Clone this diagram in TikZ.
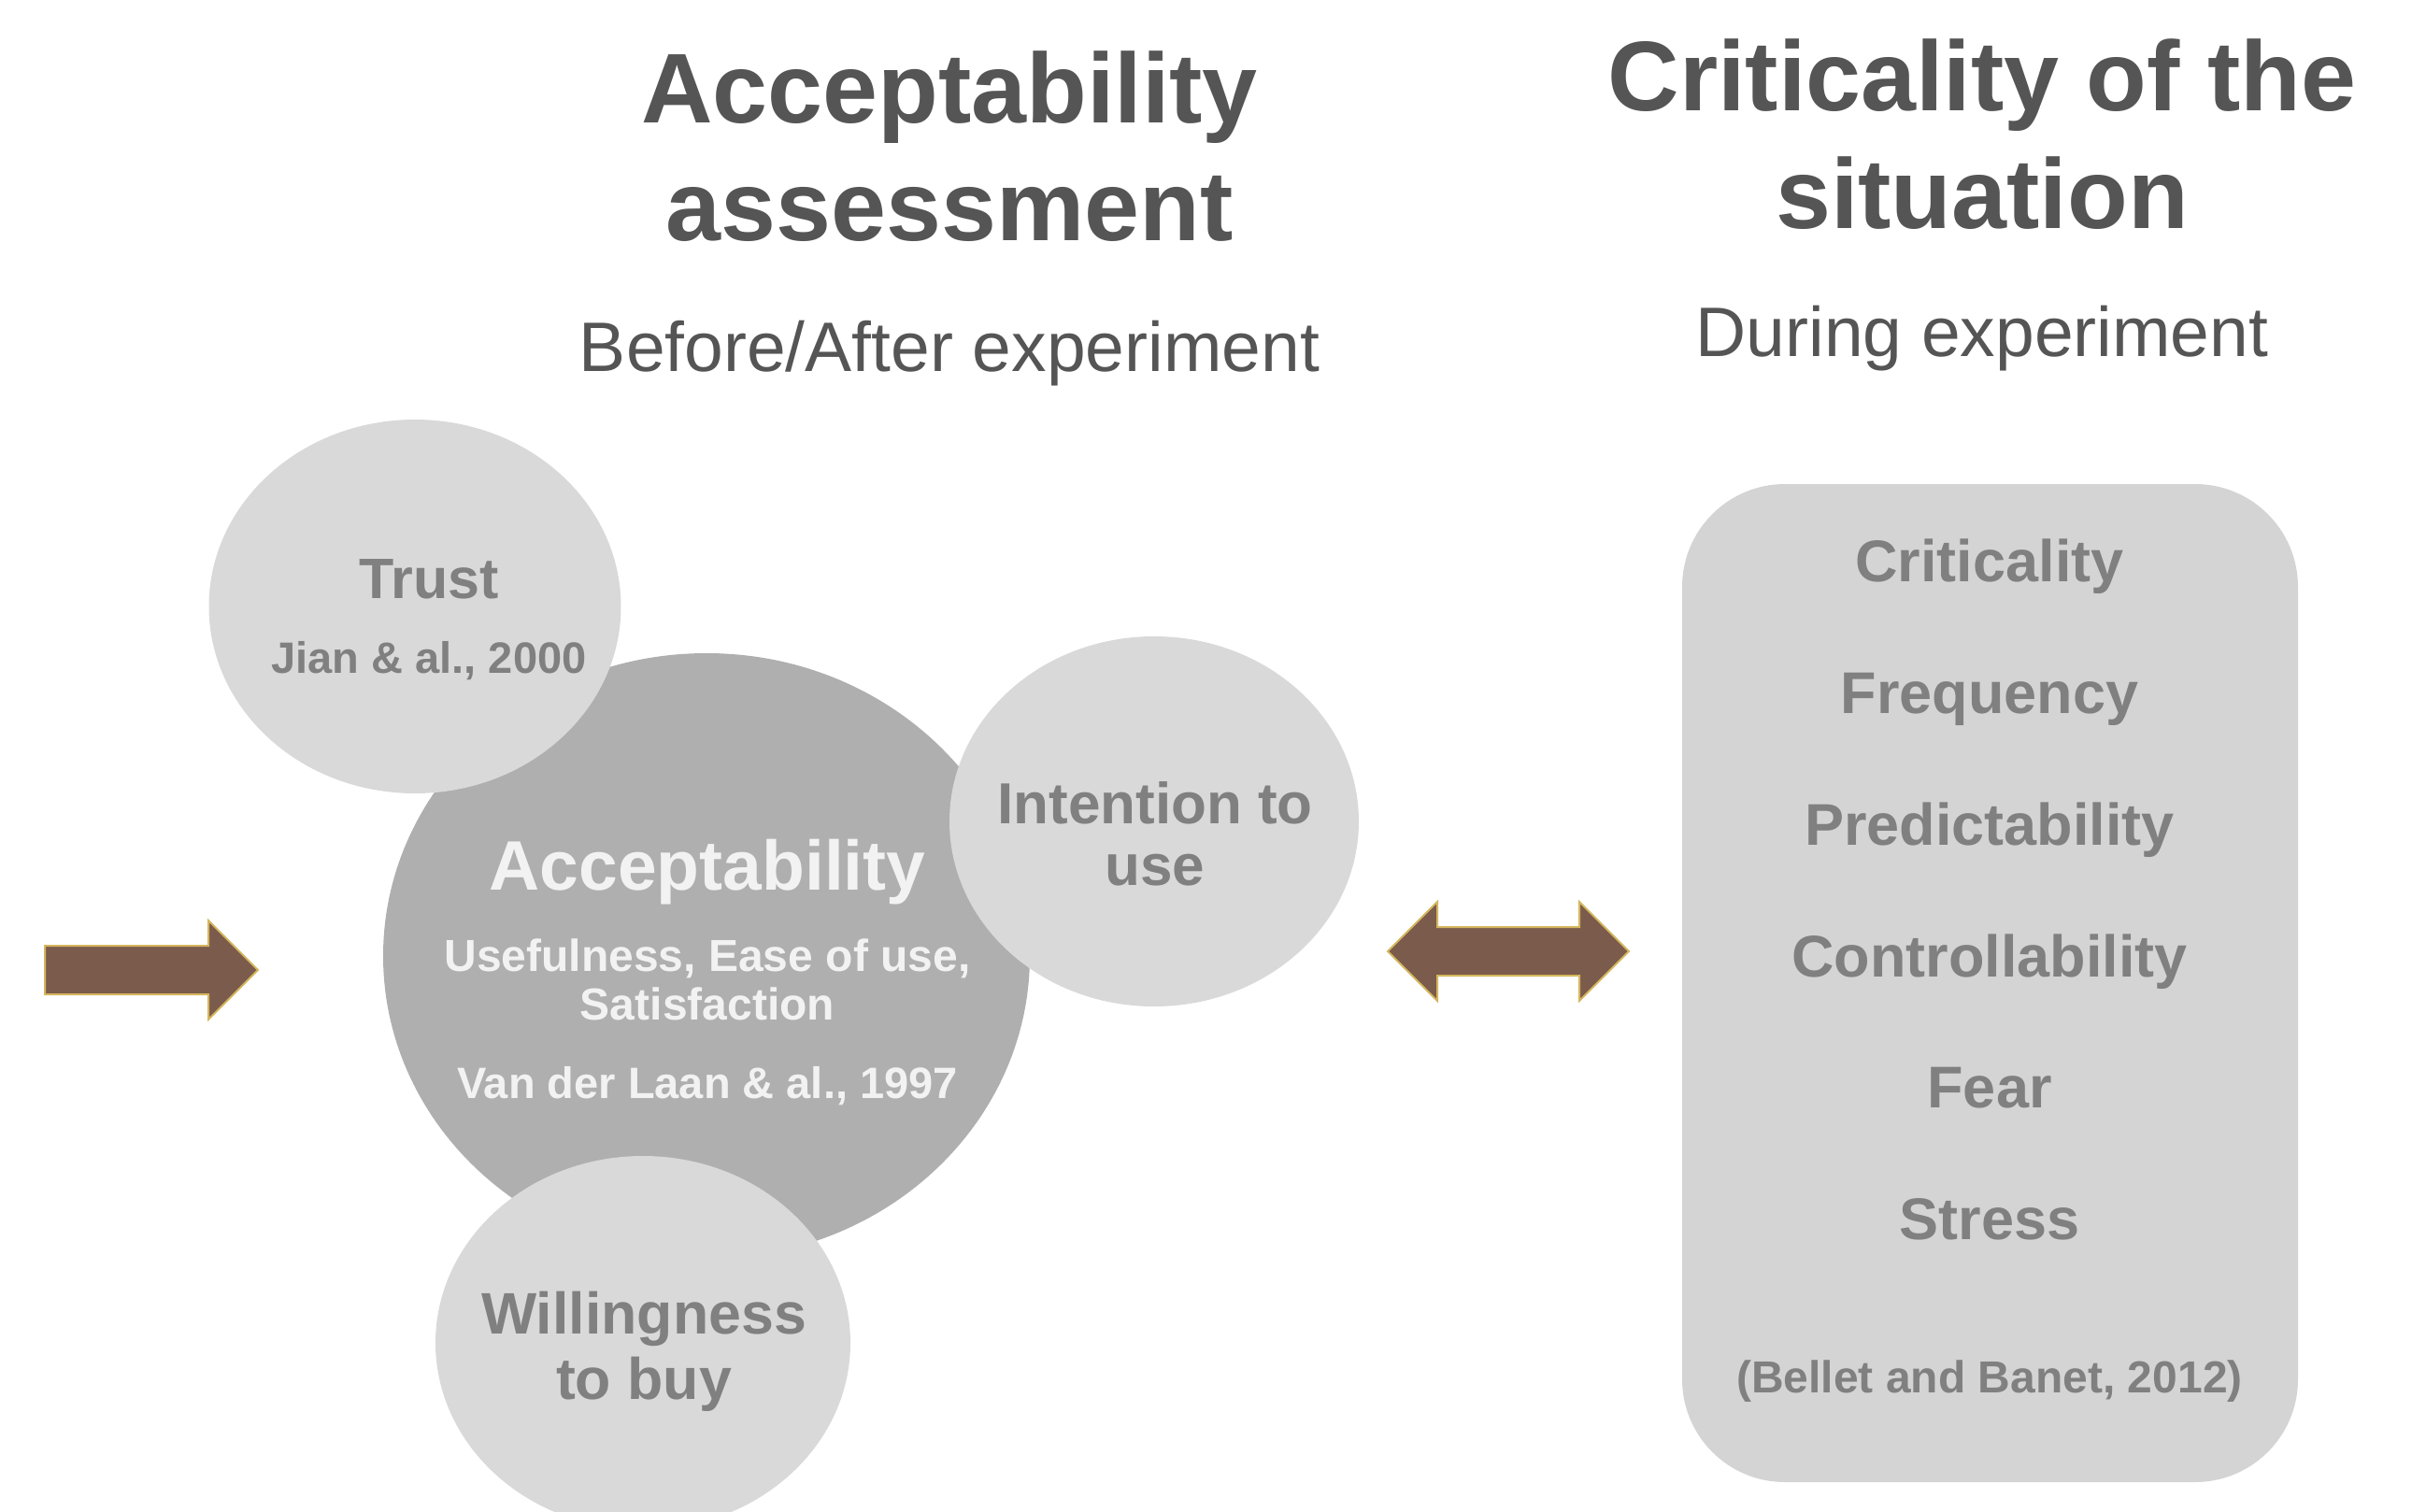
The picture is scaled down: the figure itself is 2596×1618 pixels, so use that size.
\documentclass[tikz,border=0pt]{standalone}
\usepackage{fontspec}
\setmainfont{Liberation Sans}
\usetikzlibrary{shapes.geometric}
\definecolor{titlegray}{HTML}{555555}
\definecolor{textgray}{HTML}{808080}
\definecolor{lightfill}{HTML}{D9D9D9}
\definecolor{darkfill}{HTML}{AFAFAF}
\definecolor{boxfill}{HTML}{D4D4D4}
\definecolor{arrowfill}{HTML}{7B5B4C}
\definecolor{arrowline}{HTML}{D4B65E}
\definecolor{lighttext}{HTML}{F2F2F2}
\begin{document}
\begin{tikzpicture}[x=0.3pt,y=-0.3pt,
  txt/.style={anchor=base, inner sep=0pt, outer sep=0pt},
  titletxt/.style={txt, text=titlegray, font=\fontsize{31.8pt}{38pt}\selectfont\bfseries},
  subtxt/.style={txt, text=titlegray, font=\fontsize{22.5pt}{27pt}\selectfont},
  bubble/.style={ellipse, inner sep=0pt, draw=none, fill=lightfill},
  graytxt/.style={txt, text=textgray},
  whitetxt/.style={txt, text=lighttext},
  blockarrow/.style={fill=arrowfill, draw=arrowline, line width=0.6pt, line join=miter},
  itemtxt/.style={graytxt, font=\fontsize{18.9pt}{22pt}\selectfont\bfseries}
]
\useasboundingbox (0,0) rectangle (2596,1618);
\clip (0,0) rectangle (2596,1618);

% titles
\node[titletxt] (t1a) at (1016,132) {Acceptability};
\node[titletxt] (t1b) at (1016,257) {assessment};
\node[subtxt] (s1) at (1016,397) {Before/After experiment};
\node[titletxt] (t2a) at (2121,119) {Criticality of the};
\node[titletxt] (t2b) at (2121,245) {situation};
\node[subtxt] (s2) at (2121,381) {During experiment};

% circles
\node[ellipse, inner sep=0pt, fill=darkfill, minimum width=207.6pt, minimum height=194.4pt] (accept) at (756,1023) {};
\node[bubble, minimum width=132.3pt, minimum height=120pt] (trust) at (444,649) {};
\node[bubble, minimum width=131.4pt, minimum height=118.8pt] (intent) at (1235,879) {};
\node[bubble, minimum width=133.2pt, minimum height=120pt] (willing) at (688,1437) {};

% circle texts
\node[graytxt, font=\fontsize{18.3pt}{22pt}\selectfont\bfseries] (trustT) at (459,640) {Trust};
\node[graytxt, font=\fontsize{14.1pt}{17pt}\selectfont\bfseries] (trustR) at (459,720) {Jian \& al., 2000};

\node[whitetxt, font=\fontsize{22.5pt}{27pt}\selectfont\bfseries] (accT) at (757,952) {Acceptability};
\node[whitetxt, font=\fontsize{14.4pt}{17pt}\selectfont\bfseries] (accD1) at (757,1039) {Usefulness, Ease of use,};
\node[whitetxt, font=\fontsize{14.4pt}{17pt}\selectfont\bfseries] (accD2) at (757,1091) {Satisfaction};
\node[whitetxt, font=\fontsize{14.1pt}{17pt}\selectfont\bfseries] (accR) at (757,1175) {Van der Laan \& al., 1997};

\node[graytxt, font=\fontsize{18.6pt}{22pt}\selectfont\bfseries] (intT1) at (1236,881) {Intention to};
\node[graytxt, font=\fontsize{18.6pt}{22pt}\selectfont\bfseries] (intT2) at (1236,947) {use};

\node[graytxt, font=\fontsize{18.8pt}{22pt}\selectfont\bfseries] (wilT1) at (689,1427) {Willingness};
\node[graytxt, font=\fontsize{18.8pt}{22pt}\selectfont\bfseries] (wilT2) at (689,1497) {to buy};

% right box
\node[rectangle, rounded corners=33pt, inner sep=0pt, fill=boxfill, minimum width=197.7pt, minimum height=320.4pt] (critbox) at (2129.5,1052) {};
\node[itemtxt] (i1) at (2129,622) {Criticality};
\node[itemtxt] (i2) at (2129,763) {Frequency};
\node[itemtxt] (i3) at (2129,904) {Predictability};
\node[itemtxt] (i4) at (2129,1045) {Controllability};
\node[itemtxt] (i5) at (2129,1185) {Fear};
\node[itemtxt] (i6) at (2129,1326) {Stress};
\node[graytxt, font=\fontsize{14.4pt}{17pt}\selectfont\bfseries] (iref) at (2129,1490) {(Bellet and Banet, 2012)};

% block arrows
\coordinate (inTail) at (48,1038);
\draw[blockarrow] (inTail) ++(0,-26) -- ++(175,0) -- ++(0,-27) -- ++(53,53) -- ++(-53,53) -- ++(0,-27) -- ++(-175,0) -- cycle;

\coordinate (dblLeft) at (1485,1018);
\draw[blockarrow] (dblLeft) -- ++(53,-53) -- ++(0,27) -- ++(152,0) -- ++(0,-27) -- ++(53,53) -- ++(-53,53) -- ++(0,-27) -- ++(-152,0) -- ++(0,27) -- cycle;
\end{tikzpicture}
\end{document}
